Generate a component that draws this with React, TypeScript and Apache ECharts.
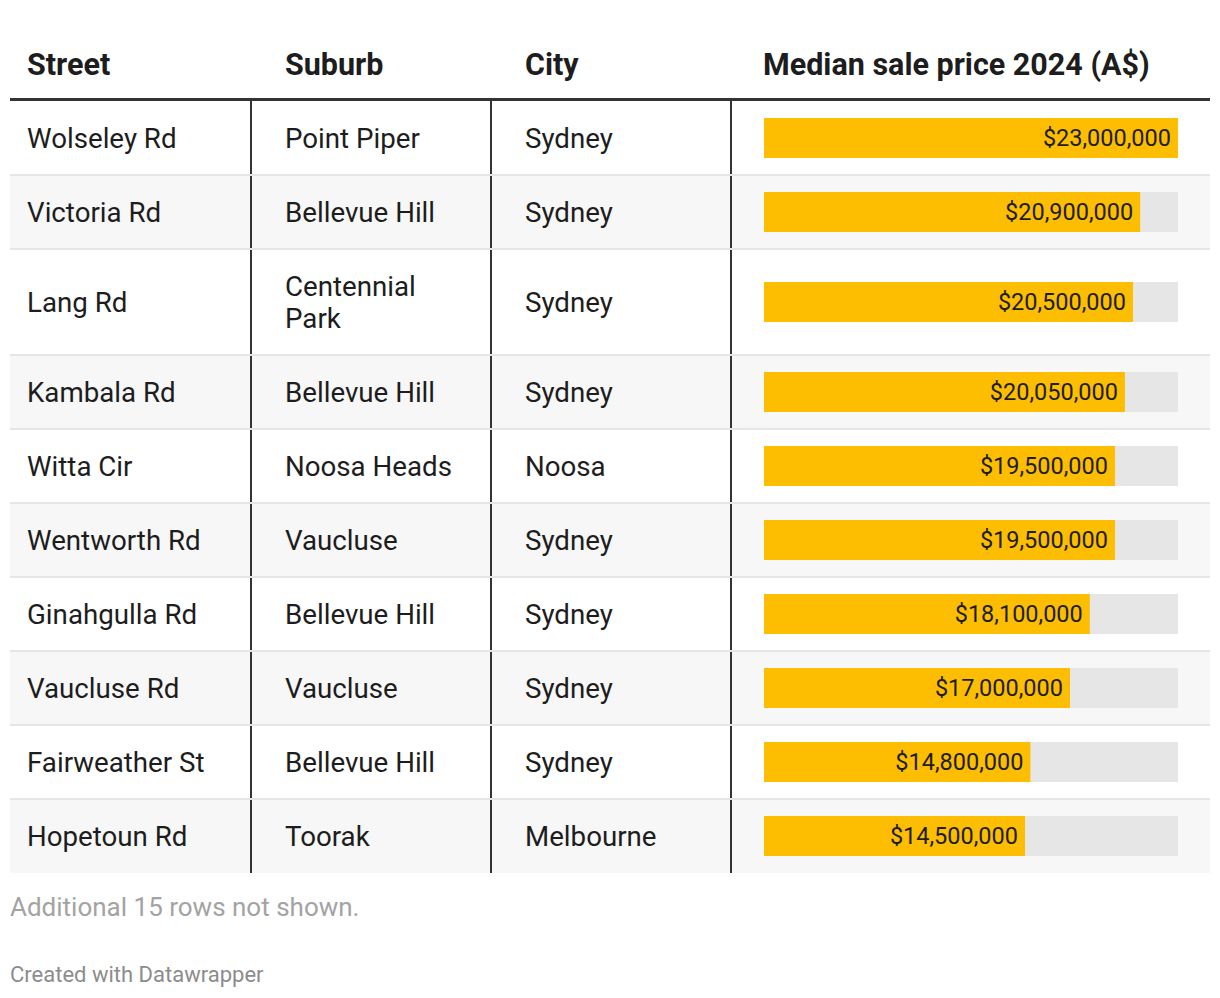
import React, { useEffect, useRef } from "react";
import * as echarts from "echarts";

const headers = ["Street", "Suburb", "City", "Median sale price 2024 (A$)"];
const streets = ["Wolseley Rd", "Victoria Rd", "Lang Rd", "Kambala Rd", "Witta Cir", "Wentworth Rd", "Ginahgulla Rd", "Vaucluse Rd", "Fairweather St", "Hopetoun Rd"];
const suburbs = ["Point Piper", "Bellevue Hill", "Centennial Park", "Bellevue Hill", "Noosa Heads", "Vaucluse", "Bellevue Hill", "Vaucluse", "Bellevue Hill", "Toorak"];
const cities = ["Sydney", "Sydney", "Sydney", "Sydney", "Noosa", "Sydney", "Sydney", "Sydney", "Sydney", "Melbourne"];
const prices = [23000000, 20900000, 20500000, 20050000, 19500000, 19500000, 18100000, 17000000, 14800000, 14500000];
const note = "Additional 15 rows not shown.";
const credit = "Created with Datawrapper";

// layout
const W = 1220;
const H = 998;
const TABLE_LEFT = 10;
const TABLE_RIGHT = 1210;
const HEADER_LINE_Y = 98;
const BODY_TOP = 101;
const COL_X = [10, 251, 491, 731];
const TEXT_X = [27, 285, 525, 763];
const BAR_LEFT = 764;
const BAR_RIGHT = 1178;
const FONT = "Roboto";
const BODY_SIZE = 27.7;
const HEADER_SIZE = 30.5;
const LABEL_SIZE = 23.5;
const LINE_H = 32;
const ROW_BASE = 42;
const SUBURB_MAX_W = 172;

function wrap(text: string, maxW: number): string[] {
  const c = document.createElement("canvas").getContext("2d")!;
  c.font = `${BODY_SIZE}px ${FONT}`;
  const words = text.split(" ");
  const lines: string[] = [];
  let cur = "";
  for (const w of words) {
    const t = cur ? cur + " " + w : w;
    if (cur && c.measureText(t).width > maxW) {
      lines.push(cur);
      cur = w;
    } else cur = t;
  }
  if (cur) lines.push(cur);
  return lines;
}

const fmt = (v: number) => "$" + v.toLocaleString("en-US");

export default function App() {
  const ref = useRef<HTMLDivElement>(null);
  useEffect(() => {
    document.body.style.margin = "0";
    const chart = echarts.init(ref.current!, null, { renderer: "svg" });
    const suburbLines = suburbs.map((s) => wrap(s, SUBURB_MAX_W));
    const heights = suburbLines.map((l) => ROW_BASE + LINE_H * l.length);
    const tops: number[] = [];
    let acc = 0;
    heights.forEach((h) => {
      tops.push(acc);
      acc += h;
    });
    const total = acc;
    const maxPrice = Math.max(...prices);
    const data = prices.map((p, i) => [p, tops[i], heights[i], i]);

    chart.setOption({
      animation: false,
      grid: { left: BAR_LEFT, right: W - BAR_RIGHT, top: BODY_TOP, height: total, containLabel: false },
      xAxis: { type: "value", min: 0, max: maxPrice, show: false },
      yAxis: { type: "value", min: 0, max: total, inverse: true, show: false },
      graphic: [
        ...headers.map((h, i) => ({
          type: "text",
          x: TEXT_X[i],
          y: 64.5,
          style: { text: h, fontFamily: FONT, fontSize: HEADER_SIZE, fontWeight: "bold", fill: "#1d1d1d", verticalAlign: "middle" },
        })),
        {
          type: "rect",
          shape: { x: TABLE_LEFT, y: HEADER_LINE_Y, width: TABLE_RIGHT - TABLE_LEFT, height: 3 },
          style: { fill: "#333333" },
        },
        {
          type: "text",
          x: 10,
          y: 907,
          style: { text: note, fontFamily: FONT, fontSize: 26, fill: "#a3a3a3", verticalAlign: "middle" },
        },
        {
          type: "text",
          x: 10,
          y: 974,
          style: { text: credit, fontFamily: FONT, fontSize: 22, fill: "#8c8c8c", verticalAlign: "middle" },
        },
      ],
      series: [
        {
          type: "custom",
          clip: false,
          data,
          renderItem: (params: any, api: any) => {
            const price = api.value(0);
            const top = api.value(1);
            const h = api.value(2);
            const i = api.value(3);
            const pTop = api.coord([0, top]);
            const pBot = api.coord([0, top + h]);
            const y0 = pTop[1];
            const y1 = pBot[1];
            const x0 = pTop[0];
            const xEnd = api.coord([price, 0])[0];
            const xMax = api.coord([maxPrice, 0])[0];
            const cy = (y0 + y1) / 2;
            const children: any[] = [];
            children.push({
              type: "rect",
              shape: { x: TABLE_LEFT, y: y0, width: TABLE_RIGHT - TABLE_LEFT, height: y1 - y0 },
              style: { fill: i % 2 === 1 ? "#f7f7f7" : "#ffffff" },
            });
            for (let c = 1; c < COL_X.length; c++) {
              children.push({
                type: "rect",
                shape: { x: COL_X[c] - 1, y: y0, width: 2, height: y1 - y0 },
                style: { fill: "#333333" },
              });
            }
            if (i > 0) {
              children.push({
                type: "rect",
                shape: { x: TABLE_LEFT, y: y0 - 1, width: TABLE_RIGHT - TABLE_LEFT, height: 2 },
                style: { fill: "#e6e6e6" },
              });
            }
            const cellStyle = { fontFamily: FONT, fontSize: BODY_SIZE, fill: "#1d1d1d", verticalAlign: "middle", lineHeight: LINE_H };
            children.push({ type: "text", x: TEXT_X[0], y: cy, style: { ...cellStyle, text: streets[i] } });
            children.push({ type: "text", x: TEXT_X[1], y: cy, style: { ...cellStyle, text: suburbLines[i].join("\n") } });
            children.push({ type: "text", x: TEXT_X[2], y: cy, style: { ...cellStyle, text: cities[i] } });
            children.push({
              type: "rect",
              shape: { x: x0, y: cy - 20, width: xMax - x0, height: 40 },
              style: { fill: "#e6e6e6" },
            });
            children.push({
              type: "rect",
              shape: { x: x0, y: cy - 20, width: xEnd - x0, height: 40 },
              style: { fill: "#fdbd00" },
            });
            children.push({
              type: "text",
              x: xEnd - 7,
              y: cy,
              style: { text: fmt(price), fontFamily: FONT, fontSize: LABEL_SIZE, fill: "#1d1d1d", align: "right", verticalAlign: "middle" },
            });
            return { type: "group", children };
          },
        },
      ],
    });
    return () => chart.dispose();
  }, []);
  return <div ref={ref} style={{ width: W, height: H }} />;
}
